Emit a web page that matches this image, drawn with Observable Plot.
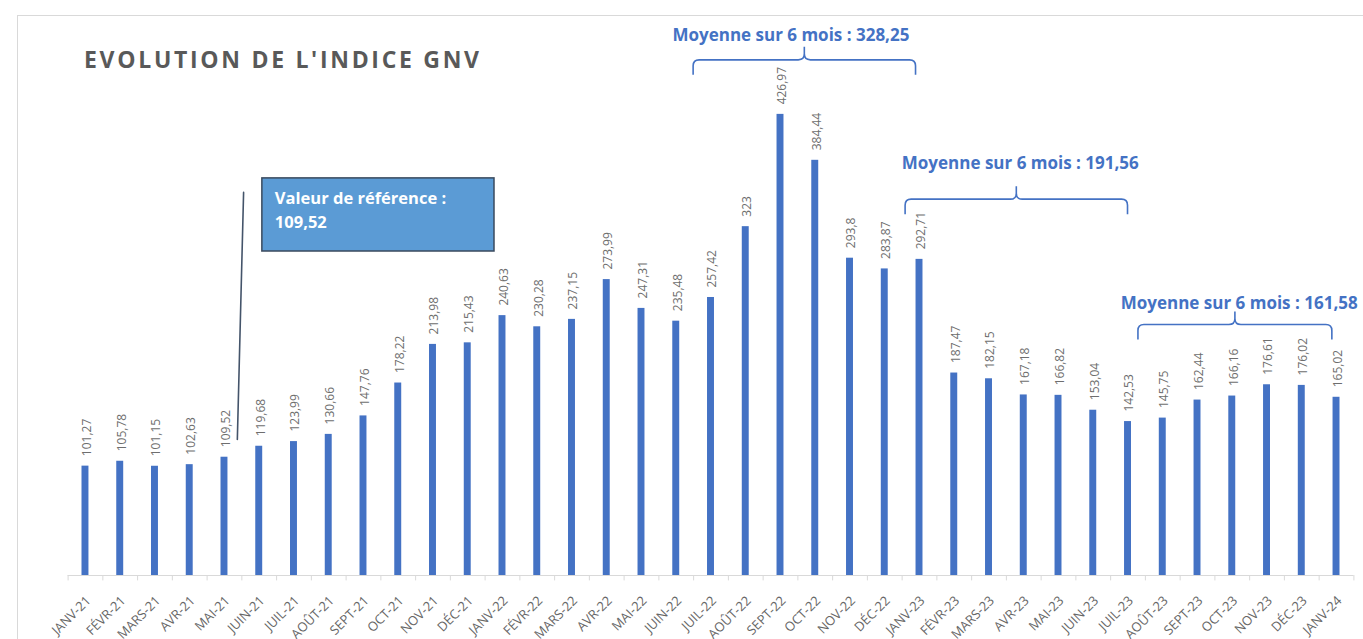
<!DOCTYPE html>
<html>
<head>
<meta charset="utf-8">
<script src="https://cdn.jsdelivr.net/npm/d3@7"></script>
<script src="https://cdn.jsdelivr.net/npm/@observablehq/plot@0.6"></script>
<style>
  body { margin: 0; background: #fff; font-family: "Open Sans", sans-serif; }
  #wrap { position: relative; width: 1363px; height: 639px; overflow: hidden; }
  #frame { position: absolute; left: 17px; top: 15px; width: 1400px; height: 700px; border: 1px solid #d9d9d9; box-sizing: border-box; }
  #title { position: absolute; left: 84px; top: 42.5px; font: bold 23px "Open Sans", sans-serif; letter-spacing: 2.7px; color: #595959; white-space: nowrap; }
  #chart { position: absolute; left: 0; top: 0; }
</style>
</head>
<body>
<div id="wrap">
  <div id="frame"></div>
  <div id="chart"></div>
  <div id="title">EVOLUTION DE L'INDICE GNV</div>
</div>
<script>
const months = ["JANV-21","FÉVR-21","MARS-21","AVR-21","MAI-21","JUIN-21","JUIL-21","AOÛT-21","SEPT-21","OCT-21","NOV-21","DÉC-21",
  "JANV-22","FÉVR-22","MARS-22","AVR-22","MAI-22","JUIN-22","JUIL-22","AOÛT-22","SEPT-22","OCT-22","NOV-22","DÉC-22",
  "JANV-23","FÉVR-23","MARS-23","AVR-23","MAI-23","JUIN-23","JUIL-23","AOÛT-23","SEPT-23","OCT-23","NOV-23","DÉC-23","JANV-24"];
const values = [101.27,105.78,101.15,102.63,109.52,119.68,123.99,130.66,147.76,178.22,213.98,215.43,
  240.63,230.28,237.15,273.99,247.31,235.48,257.42,323,426.97,384.44,293.8,283.87,
  292.71,187.47,182.15,167.18,166.82,153.04,142.53,145.75,162.44,166.16,176.61,176.02,165.02];

// 6-month average annotations (brace from/to in category index units, y in index value units)
const braceLabels = ["Moyenne sur 6 mois : 328,25","Moyenne sur 6 mois : 191,56","Moyenne sur 6 mois : 161,58"];
const braceFrom = [17.5, 23.6, 30.3];
const braceTo = [23.9, 30.0, 35.88];
const braceY = [477, 348, 232];
const braceTextX = [20.3, 26.9, 33.2];
const braceTextY = [500, 381, 252];

// reference value callout
const calloutLines = ["Valeur de référence :", "109,52"];
const calloutBox = {x1: 5.09, x2: 11.77, y1: 300, y2: 367.7};
const calloutTextX = 5.45;
const calloutTextY = [349, 327];
const calloutLeader = [{x: 4.55, y: 354.7}, {x: 4.37, y: 126}];

const data = months.map((m, i) => ({i, month: m, value: values[i]}));
const braces = braceLabels.map((label, k) => ({label, from: braceFrom[k], to: braceTo[k], y: braceY[k], tx: braceTextX[k], ty: braceTextY[k]}));
const fmt = v => String(v).replace(".", ",");
const blue = "#4472C4";

function braceMark(index, scales) {
  const g = d3.create("svg:g");
  const r = 6, arm = 15, tip = 13;
  for (const b of braces) {
    const x0 = scales.x(b.from), x1 = scales.x(b.to), xm = (x0 + x1) / 2, y = scales.y(b.y);
    const p = `M${x0},${y + arm} L${x0},${y + r} Q${x0},${y} ${x0 + r},${y} L${xm - r},${y} Q${xm},${y} ${xm},${y - r} L${xm},${y - tip}` +
              ` M${xm},${y - r} Q${xm},${y} ${xm + r},${y} L${x1 - r},${y} Q${x1},${y} ${x1},${y + r} L${x1},${y + arm}`;
    g.append("path").attr("d", p).attr("fill", "none").attr("stroke", blue).attr("stroke-width", 1.6);
  }
  return g.node();
}

const halfTicks = d3.range(-0.5, 37, 1);

const chart = Plot.plot({
  width: 1363,
  height: 639,
  marginLeft: 67.6,
  marginRight: 9.6,
  marginTop: 35,
  marginBottom: 64,
  style: {background: "transparent", fontFamily: "Open Sans, sans-serif", overflow: "visible"},
  x: {domain: [-0.5, 36.5], axis: null},
  y: {domain: [0, 500], axis: null},
  marks: [
    Plot.ruleY([0], {stroke: "#d9d9d9", strokeWidth: 1.2}),
    Plot.ruleX(halfTicks, {x: d => d, y1: 0, y2: -5, stroke: "#d9d9d9", strokeWidth: 1}),
    Plot.rectY(data, {x1: d => d.i - 0.1, x2: d => d.i + 0.1, y1: 0, y2: "value", fill: blue}),
    Plot.text(data, {x: "i", y: "value", text: d => fmt(d.value), rotate: -90, textAnchor: "start", dy: -10, dx: 1.5,
      fill: "#6e6e6e", fontSize: 12, style: "letter-spacing:0.6px"}),
    Plot.text(data, {x: "i", y: 0, text: "month", rotate: -45, textAnchor: "end", dy: 23, dx: 3,
      fill: "#666", fontSize: 13, style: "letter-spacing:2px"}),
    Plot.line(calloutLeader, {x: "x", y: "y", stroke: "#44546A", strokeWidth: 1.6}),
    Plot.rect([calloutBox], {x1: "x1", x2: "x2", y1: "y1", y2: "y2", fill: "#5B9BD5", stroke: "#3a4a5e", strokeWidth: 1.5}),
    Plot.text(calloutLines, {x: calloutTextX, y: (d, i) => calloutTextY[i], text: d => d, textAnchor: "start",
      fill: "#fff", fontWeight: "bold", fontSize: 16.5}),
    braceMark,
    Plot.text(braces, {x: "tx", y: "ty", text: "label", fill: blue, fontWeight: "bold", fontSize: 17})
  ]
});
document.getElementById("chart").appendChild(chart);
</script>
</body>
</html>
